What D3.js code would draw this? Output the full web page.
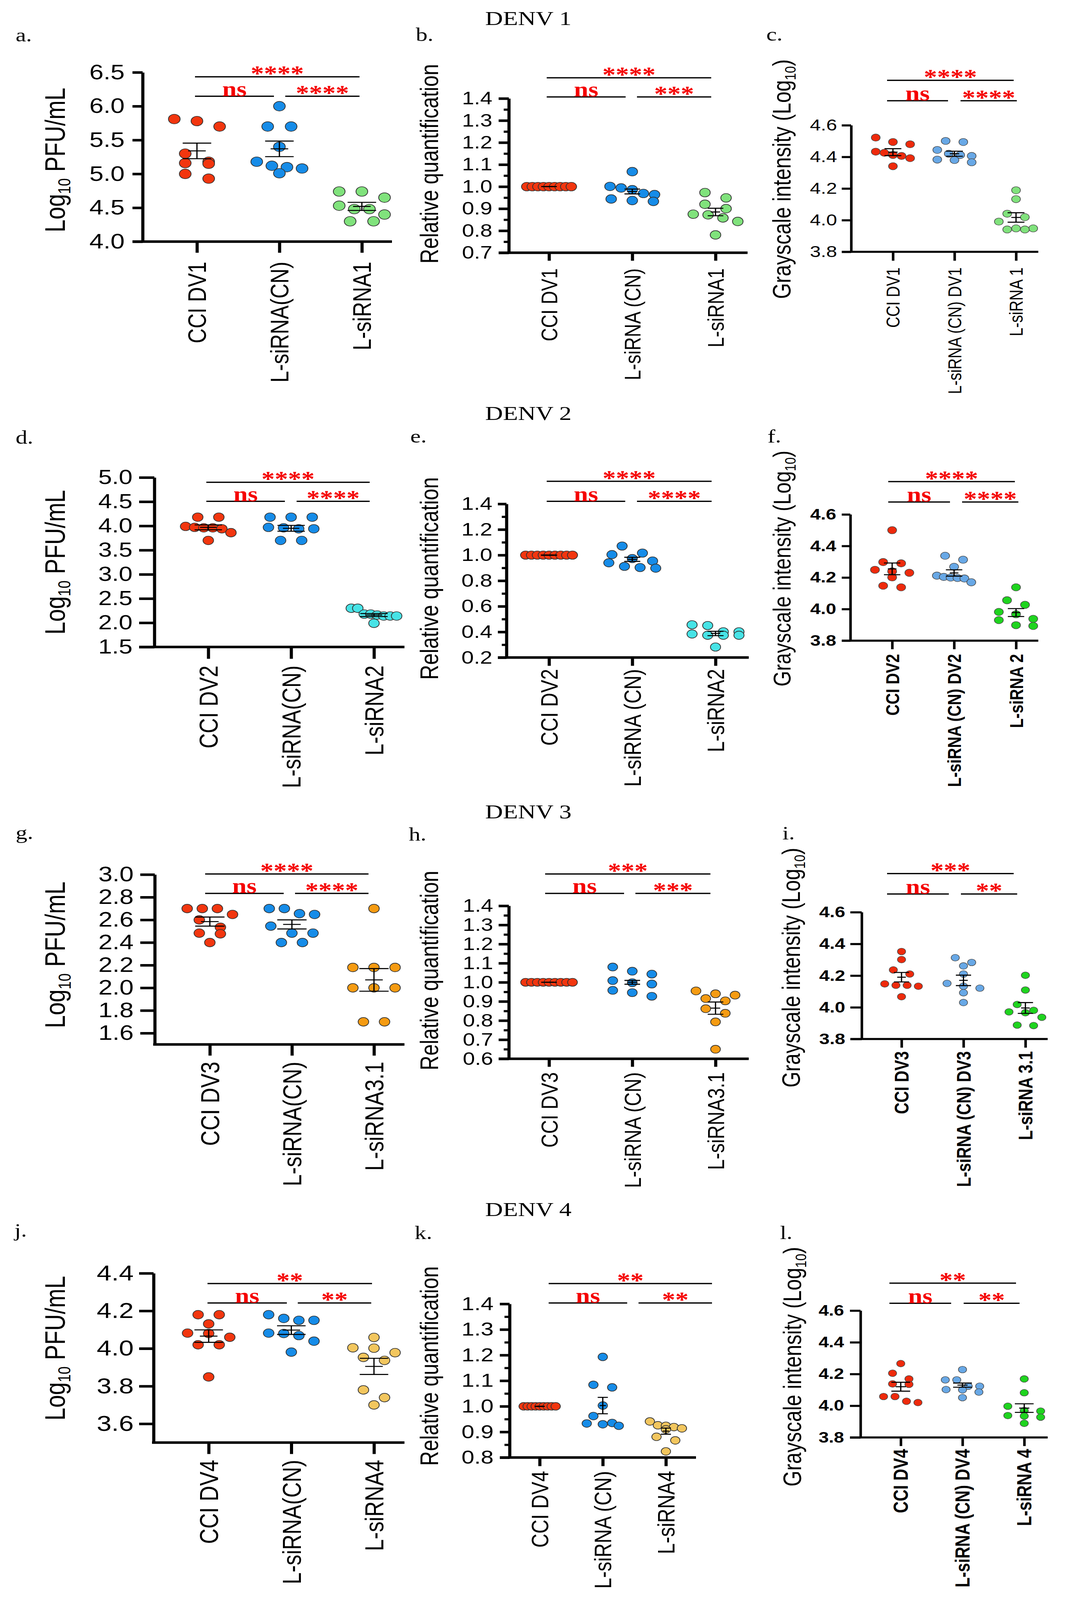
<!DOCTYPE html>
<html><head><meta charset="utf-8">
<script src="https://cdn.jsdelivr.net/npm/d3@7"></script>
<style>html,body{margin:0;padding:0;background:#fff;overflow:hidden}svg{display:block}</style>
</head><body><svg id="c"></svg>
<script>
// ---------------- DATA ----------------
const titles = ["DENV 1", "DENV 2", "DENV 3", "DENV 4"];

// a. Log10 PFU/mL, DENV1
const aCats = ["CCI DV1", "L-siRNA(CN)", "L-siRNA1"];
const aTicks = [4.0, 4.5, 5.0, 5.5, 6.0, 6.5];
const aCCI = [5.81, 5.78, 5.70, 5.30, 5.18, 5.16, 5.15, 5.00, 4.93];
const aCN  = [6.00, 5.70, 5.70, 5.40, 5.18, 5.12, 5.10, 5.08, 5.01];
const aSi  = [4.74, 4.74, 4.65, 4.53, 4.48, 4.48, 4.40, 4.30, 4.30];
const aMean = [5.34, 5.37, 4.52];
const aSem  = [0.115, 0.115, 0.06];
const aSig = ["****", "ns", "****"];

// b. Relative quantification, DENV1
const bCats = ["CCI DV1", "L-siRNA (CN)", "L-siRNA1"];
const bTicks = [0.7, 0.8, 0.9, 1.0, 1.1, 1.2, 1.3, 1.4];
const bCCI = [1, 1, 1, 1, 1, 1, 1, 1, 1];
const bCN  = [1.068, 1.001, 0.994, 0.986, 0.969, 0.964, 0.944, 0.937, 0.933];
const bSi  = [0.973, 0.949, 0.920, 0.900, 0.875, 0.872, 0.858, 0.842, 0.781];
const bMean = [1.0, 0.978, 0.885];
const bSem  = [0, 0.011, 0.017];
const bSig = ["****", "ns", "***"];

// c. Grayscale intensity, DENV1
const cCats = ["CCI DV1", "L-siRNA (CN) DV1", "L-siRNA 1"];
const cTicks = [3.8, 4.0, 4.2, 4.4, 4.6];
const cCCI = [4.522, 4.494, 4.480, 4.433, 4.426, 4.412, 4.406, 4.392, 4.341];
const cCN  = [4.501, 4.494, 4.444, 4.420, 4.412, 4.406, 4.383, 4.380, 4.366];
const cSi  = [4.189, 4.133, 4.041, 4.019, 3.991, 3.948, 3.948, 3.941, 3.941];
const cMean = [4.43, 4.42, 4.017];
const cSem  = [0.022, 0.016, 0.03];
const cSig = ["****", "ns", "****"];

// d. Log10 PFU/mL, DENV2
const dCats = ["CCI DV2", "L-siRNA(CN)", "L-siRNA2"];
const dTicks = [1.5, 2.0, 2.5, 3.0, 3.5, 4.0, 4.5, 5.0];
const dCCI = [4.18, 4.18, 3.99, 3.97, 3.96, 3.96, 3.94, 3.86, 3.70];
const dCN  = [4.18, 4.18, 4.18, 3.97, 3.96, 3.94, 3.94, 3.70, 3.70];
const dSi  = [2.30, 2.30, 2.18, 2.18, 2.16, 2.14, 2.14, 2.14, 1.99];
const dMean = [3.97, 3.95, 2.16];
const dSem  = [0.05, 0.06, 0.03];
const dSig = ["****", "ns", "****"];

// e. Relative quantification, DENV2
const eCats = ["CCI DV2", "L-siRNA (CN)", "L-siRNA2"];
const eTicks = [0.2, 0.4, 0.6, 0.8, 1.0, 1.2, 1.4];
const eCCI = [1, 1, 1, 1, 1, 1, 1, 1, 1];
const eCN  = [1.071, 1.016, 1.004, 0.973, 0.954, 0.940, 0.912, 0.903, 0.898];
const eSi  = [0.456, 0.450, 0.401, 0.401, 0.384, 0.374, 0.374, 0.374, 0.282];
const eMean = [1.0, 0.967, 0.388];
const eSem  = [0, 0.016, 0.017];
const eSig = ["****", "ns", "****"];

// f. Grayscale intensity, DENV2
const fCats = ["CCI DV2", "L-siRNA (CN) DV2", "L-siRNA 2"];
const fTicks = [3.8, 4.0, 4.2, 4.4, 4.6];
const fCCI = [4.50, 4.298, 4.290, 4.249, 4.239, 4.230, 4.201, 4.148, 4.138];
const fCN  = [4.338, 4.313, 4.268, 4.212, 4.204, 4.200, 4.197, 4.194, 4.170];
const fSi  = [4.138, 4.056, 4.027, 3.982, 3.967, 3.938, 3.930, 3.898, 3.893];
const fMean = [4.255, 4.229, 3.978];
const fSem  = [0.037, 0.02, 0.025];
const fSig = ["****", "ns", "****"];

// g. Log10 PFU/mL, DENV3
const gCats = ["CCI DV3", "L-siRNA(CN)", "L-siRNA3.1"];
const gTicks = [1.6, 1.8, 2.0, 2.2, 2.4, 2.6, 2.8, 3.0];
const gCCI = [2.70, 2.70, 2.70, 2.648, 2.60, 2.535, 2.483, 2.477, 2.40];
const gCN  = [2.70, 2.70, 2.655, 2.648, 2.545, 2.483, 2.483, 2.40, 2.40];
const gSi  = [2.70, 2.18, 2.18, 2.18, 2.00, 2.00, 2.00, 1.70, 1.70];
const gMean = [2.585, 2.56, 2.07];
const gSem  = [0.04, 0.04, 0.1];
const gSig = ["****", "ns", "****"];

// h. Relative quantification, DENV3
const hCats = ["CCI DV3", "L-siRNA (CN)", "L-siRNA3.1"];
const hTicks = [0.6, 0.7, 0.8, 0.9, 1.0, 1.1, 1.2, 1.3, 1.4];
const hCCI = [1, 1, 1, 1, 1, 1, 1, 1, 1];
const hCN  = [1.08, 1.058, 1.043, 1.009, 0.998, 0.991, 0.958, 0.946, 0.927];
const hSi  = [0.955, 0.94, 0.933, 0.915, 0.903, 0.862, 0.838, 0.793, 0.65];
const hMean = [1.0, 1.0, 0.865];
const hSem  = [0, 0.01, 0.032];
const hSig = ["***", "ns", "***"];

// i. Grayscale intensity, DENV3
const iCats = ["CCI DV3", "L-siRNA (CN) DV3", "L-siRNA 3.1"];
const iTicks = [3.8, 4.0, 4.2, 4.4, 4.6];
const iCCI = [4.352, 4.301, 4.236, 4.210, 4.148, 4.139, 4.139, 4.133, 4.067];
const iCN  = [4.313, 4.283, 4.261, 4.210, 4.151, 4.133, 4.121, 4.092, 4.030];
const iSi  = [4.202, 4.109, 4.018, 3.981, 3.971, 3.966, 3.937, 3.888, 3.885];
const iMean = [4.19, 4.17, 3.996];
const iSem  = [0.03, 0.033, 0.034];
const iSig = ["***", "ns", "**"];

// j. Log10 PFU/mL, DENV4
const jCats = ["CCI DV4", "L-siRNA(CN)", "L-siRNA4"];
const jTicks = [3.6, 3.8, 4.0, 4.2, 4.4];
const jCCI = [4.18, 4.18, 4.131, 4.082, 4.080, 4.06, 4.02, 4.02, 3.849];
const jCN  = [4.18, 4.16, 4.15, 4.15, 4.082, 4.08, 4.069, 4.039, 3.981];
const jSi  = [4.059, 4.004, 4.002, 3.978, 3.953, 3.937, 3.78, 3.739, 3.70];
const jMean = [4.066, 4.098, 3.905];
const jSem  = [0.033, 0.023, 0.043];
const jSig = ["**", "ns", "**"];

// k. Relative quantification, DENV4
const kCats = ["CCI DV4", "L-siRNA (CN)", "L-siRNA4"];
const kTicks = [0.8, 0.9, 1.0, 1.1, 1.2, 1.3, 1.4];
const kCCI = [1, 1, 1, 1, 1, 1, 1, 1, 1];
const kCN  = [1.193, 1.084, 1.074, 1.003, 0.962, 0.935, 0.933, 0.930, 0.924];
const kSi  = [0.941, 0.926, 0.924, 0.919, 0.914, 0.910, 0.881, 0.867, 0.824];
const kMean = [1.0, 1.003, 0.903];
const kSem  = [0, 0.032, 0.012];
const kSig = ["**", "ns", "**"];

// l. Grayscale intensity, DENV4
const lCats = ["CCI DV4", "L-siRNA (CN) DV4", "L-siRNA 4"];
const lTicks = [3.8, 4.0, 4.2, 4.4, 4.6];
const lCCI = [4.266, 4.205, 4.169, 4.138, 4.135, 4.058, 4.058, 4.028, 4.02];
const lCN  = [4.228, 4.163, 4.163, 4.123, 4.123, 4.102, 4.1, 4.086, 4.051];
const lSi  = [4.169, 4.082, 3.997, 3.969, 3.966, 3.938, 3.935, 3.928, 3.889];
const lMean = [4.12, 4.13, 3.985];
const lSem  = [0.028, 0.013, 0.027];
const lSig = ["**", "ns", "**"];

// ---------------- STYLE / LAYOUT ----------------
const SANS = "'Liberation Sans', Arial, Helvetica, sans-serif";
const SERIF = "'Liberation Serif', 'Times New Roman', serif";
const R = '#f2360f', B = '#168ce8', G1 = '#80e27c', C = '#47e3e6', O = '#f59b12', Y = '#f2c65e';
const R2 = '#ee2a0c', B2 = '#68a8e6', G2 = '#1fd41f';
const SIGRED = '#f50000';
const titleY = [78, 1318, 2568, 3815];
const W = 2733, H = 5020;

const panels = [
 {letter:'a.', lx:40, ly:130, ylab:'log', ylFs:72, ylX:166, ylY:502, dom:[4,6.5], yTop:227, yBot:758, axisX:365, tickLen:26, tickFs:65, tickGap:20,
  x1:504, x3:926, xl:339, xr:1003, xTick:35, catFs:65, catTop:821, r:15, spread:58, capW:73, meanW:45, colors:[R,B,G1], sw:8,
  sigY:[241,302], sigX:[[499,920],[499,701],[730,920]],
  cats:aCats, ticks:aTicks, groups:[aCCI,aCN,aSi], mean:aMean, sem:aSem, sig:aSig},
 {letter:'b.', lx:1064, ly:129, ylab:'rel', ylFs:64, ylX:1121, ylY:514, dom:[0.7,1.4], yTop:309, yBot:793, axisX:1302, tickLen:26, tickFs:56, tickGap:16, minor:0.05, minorLen:13,
  x1:1405, x3:1831, xl:1276, xr:1913, xTick:25, catFs:58, catTop:842, r:13.5, spread:57, capW:40, meanW:24, colors:[R,B,G1], sw:8,
  sigY:[244,304], sigX:[[1399,1820],[1399,1601],[1630,1820]],
  cats:bCats, ticks:bTicks, groups:[bCCI,bCN,bSi], mean:bMean, sem:bSem, sig:bSig},
 {letter:'c.', lx:1961, ly:127, ylab:'gray', ylFs:64, ylX:2023, ylY:562, dom:[3.8,4.6], yTop:393, yBot:790, axisX:2178, tickLen:24, tickFs:50, tickGap:12,
  x1:2285, x3:2600, xl:2154, xr:2657, xTick:28, catFs:48, catTop:839, r:11.3, spread:44, capW:43, meanW:24, colors:[R2,B2,G1], sw:6.5,
  sigY:[252,316], sigX:[[2270,2594],[2270,2426],[2458,2602]],
  cats:cCats, ticks:cTicks, groups:[cCCI,cCN,cSi], mean:cMean, sem:cSem, sig:cSig},
 {letter:'d.', lx:40, ly:1392, ylab:'log', ylFs:72, ylX:166, ylY:1764, dom:[1.5,5], yTop:1498, yBot:2030, axisX:395, tickLen:39, tickFs:63, tickGap:17,
  x1:533, x3:957, xl:356, xr:1035, xTick:37, catFs:66, catTop:2088, r:13.5, spread:58, capW:70, meanW:42, colors:[R,B,C], sw:8,
  sigY:[1513,1573], sigX:[[528,946],[528,729],[759,946]],
  cats:dCats, ticks:dTicks, groups:[dCCI,dCN,dSi], mean:dMean, sem:dSem, sig:dSig},
 {letter:'e.', lx:1050, ly:1388, ylab:'rel', ylFs:65, ylX:1121, ylY:1815, dom:[0.2,1.4], yTop:1581, yBot:2063, axisX:1296, tickLen:22, tickFs:57, tickGap:14, minor:0.1, minorLen:12,
  x1:1405, x3:1831, xl:1274, xr:1916, xTick:26, catFs:61, catTop:2099, r:13, spread:60, capW:41, meanW:24, colors:[R,B,C], sw:8,
  sigY:[1510,1573], sigX:[[1399,1821],[1399,1600],[1630,1821]],
  cats:eCats, ticks:eTicks, groups:[eCCI,eCN,eSi], mean:eMean, sem:eSem, sig:eSig},
 {letter:'f.', lx:1964, ly:1388, ylab:'gray', ylFs:63, ylX:2023, ylY:1784, dom:[3.8,4.6], yTop:1614, yBot:2010, axisX:2176, tickLen:22, tickFs:48, tickGap:14, bold:true,
  x1:2283, x3:2600, xl:2154, xr:2657, xTick:27, catFs:49, catBold:true, catTop:2052, r:11.5, spread:44, capW:42, meanW:22, colors:[R2,B2,G2], sw:6.5,
  sigY:[1511,1575], sigX:[[2273,2597],[2273,2431],[2462,2606]],
  cats:fCats, ticks:fTicks, groups:[fCCI,fCN,fSi], mean:fMean, sem:fSem, sig:fSig},
 {letter:'g.', lx:40, ly:2632, ylab:'log', ylFs:73, ylX:166, ylY:2996, dom:[1.5,3.0], yTop:2744, yBot:3277, axisX:396, tickLen:37, tickFs:65, tickGap:17,
  x1:537, x3:957, xl:392, xr:1035, xTick:35, catFs:67, catTop:3331, r:13.5, spread:58, capW:75, meanW:45, colors:[R,B,O], sw:8,
  sigY:[2742,2803], sigX:[[525,943],[525,726],[755,943]],
  cats:gCats, ticks:gTicks, groups:[gCCI,gCN,gSi], mean:gMean, sem:gSem, sig:gSig},
 {letter:'h.', lx:1046, ly:2638, ylab:'rel', ylFs:64, ylX:1121, ylY:3045, dom:[0.6,1.4], yTop:2842, yBot:3322, axisX:1302, tickLen:26, tickFs:56, tickGap:14, minor:0.05, minorLen:13,
  x1:1405, x3:1831, xl:1276, xr:1916, xTick:25, catFs:60, catTop:3364, r:12.5, spread:60, capW:40, meanW:24, colors:[R,B,O], sw:8,
  sigY:[2742,2803], sigX:[[1395,1818],[1395,1597],[1626,1818]],
  cats:hCats, ticks:hTicks, groups:[hCCI,hCN,hSi], mean:hMean, sem:hSem, sig:hSig},
 {letter:'i.', lx:2002, ly:2634, ylab:'gray', ylFs:64, ylX:2047, ylY:3036, dom:[3.8,4.6], yTop:2862, yBot:3260, axisX:2205, tickLen:29, tickFs:48, tickGap:13, bold:true,
  x1:2307, x3:2624, xl:2176, xr:2681, xTick:27, catFs:50, catBold:true, catTop:3298, r:10.5, spread:43, capW:39, meanW:22, colors:[R2,B2,G2], sw:6.5,
  sigY:[2741,2805], sigX:[[2270,2594],[2270,2428],[2459,2603]],
  cats:iCats, ticks:iTicks, groups:[iCCI,iCN,iSi], mean:iMean, sem:iSem, sig:iSig},
 {letter:'j.', lx:37, ly:3880, ylab:'log', ylFs:72, ylX:166, ylY:4230, dom:[3.5,4.4], yTop:3995, yBot:4526, axisX:393, tickLen:37, tickFs:68, tickGap:14,
  x1:534, x3:957, xl:389, xr:1035, xTick:36, catFs:67, catTop:4580, r:13.5, spread:58, capW:73, meanW:45, colors:[R,B,Y], sw:8,
  sigY:[4027,4088], sigX:[[531,952],[531,734],[762,950]],
  cats:jCats, ticks:jTicks, groups:[jCCI,jCN,jSi], mean:jMean, sem:jSem, sig:jSig},
 {letter:'k.', lx:1061, ly:3888, ylab:'rel', ylFs:64, ylX:1121, ylY:4286, dom:[0.8,1.4], yTop:4091, yBot:4573, axisX:1304, tickLen:25, tickFs:59, tickGap:16, minor:0.05, minorLen:13,
  x1:1381, x3:1704, xl:1279, xr:1781, xTick:27, catFs:61, catTop:4615, r:12, spread:41, capW:26, meanW:16, colors:[R,B,Y], sw:8,
  sigY:[4027,4088], sigX:[[1404,1822],[1404,1605],[1634,1822]],
  cats:kCats, ticks:kTicks, groups:[kCCI,kCN,kSi], mean:kMean, sem:kSem, sig:kSig},
 {letter:'l.', lx:1996, ly:3888, ylab:'gray', ylFs:64, ylX:2050, ylY:4288, dom:[3.8,4.6], yTop:4112, yBot:4510, axisX:2202, tickLen:27, tickFs:47, tickGap:15, bold:true,
  x1:2305, x3:2621, xl:2175, xr:2681, xTick:27, catFs:51, catBold:true, catTop:4546, r:10.5, spread:44, capW:48, meanW:26, colors:[R2,B2,G2], sw:6.5,
  sigY:[4026,4089], sigX:[[2276,2600],[2276,2434],[2466,2609]],
  cats:lCats, ticks:lTicks, groups:[lCCI,lCN,lSi], mean:lMean, sem:lSem, sig:lSig}
];

// ---------------- DRAW ----------------
// The drawing is laid out on a 2733x5020 canvas and fitted to the actual window.
const vw = window.innerWidth || W, vh = window.innerHeight || H;
const svg = d3.select('#c')
  .attr('width', vw).attr('height', vh)
  .attr('viewBox', `0 0 ${W} ${H}`)
  .attr('preserveAspectRatio', 'none');
svg.append('rect').attr('width', W).attr('height', H).attr('fill', '#fff');

titles.forEach((t, i) => {
  svg.append('text').attr('x', 1352).attr('y', titleY[i]).attr('text-anchor', 'middle')
    .attr('font-family', SERIF).attr('font-size', 63).attr('fill', '#000').text(t);
});

// Prism-like scatter layout: points whose heights fall within one dot diameter
// share a row and are spread symmetrically about the column centre.
function swarm(vals, y, r, maxHalf) {
  const d = 2 * r;
  const idx = vals.map((v, i) => i).sort((a, b) => vals[b] - vals[a]);
  const rows = [];
  let cur = null;
  idx.forEach(i => {
    const py = y(vals[i]);
    if (cur && Math.abs(py - cur.y0) < d * 0.95) cur.items.push(i);
    else { cur = {y0: py, items: [i]}; rows.push(cur); }
  });
  const off = new Array(vals.length).fill(0);
  rows.forEach(row => {
    const n = row.items.length;
    if (n < 2) return;
    const sp = Math.min(2 * d, 2 * maxHalf / (n - 1));
    row.items.forEach((i, k) => { off[i] = (k - (n - 1) / 2) * sp; });
  });
  return off;
}

function yLabel(g, p) {
  const t = g.append('text')
    .attr('transform', `translate(${p.ylX},${p.ylY}) rotate(-90)`)
    .attr('text-anchor', 'middle').attr('font-family', SANS)
    .attr('font-size', p.ylFs).attr('fill', '#000');
  const sub = p.ylFs * 0.62, sh = p.ylFs * 0.2;
  if (p.ylab === 'log') {
    t.append('tspan').text('Log');
    t.append('tspan').attr('font-size', sub).attr('dy', sh).text('10');
    t.append('tspan').attr('dy', -sh).text(' PFU/mL');
  } else if (p.ylab === 'gray') {
    t.append('tspan').text('Grayscale intensity (Log');
    t.append('tspan').attr('font-size', sub).attr('dy', sh).text('10');
    t.append('tspan').attr('dy', -sh).text(')');
  } else {
    t.text('Relative quantification');
  }
}

panels.forEach(p => {
  const g = svg.append('g');
  g.append('text').attr('x', p.lx).attr('y', p.ly).attr('font-family', SERIF)
    .attr('font-size', 60).attr('fill', '#000').text(p.letter);

  const y = d3.scaleLinear().domain(p.dom).range([p.yBot, p.yTop]);
  const x = d3.scalePoint().domain(p.cats).range([p.x1, p.x3]);

  // y axis
  const ax = d3.axisLeft(y).tickValues(p.ticks).tickSize(p.tickLen).tickSizeOuter(0)
    .tickPadding(p.tickGap).tickFormat(d3.format('.1f'));
  const ga = g.append('g').attr('transform', `translate(${p.axisX},0)`).call(ax);
  ga.attr('font-family', null).attr('font-size', null);
  ga.select('.domain').attr('stroke', '#000').attr('stroke-width', p.sw);
  ga.selectAll('.tick line').attr('stroke', '#000').attr('stroke-width', p.sw);
  ga.selectAll('.tick text').attr('fill', '#000').attr('font-family', SANS)
    .attr('font-size', p.tickFs).attr('font-weight', p.bold ? 'bold' : 'normal');

  // minor ticks
  if (p.minor) {
    const n = Math.round((p.dom[1] - p.dom[0]) / p.minor);
    const minors = d3.range(n + 1).map(k => p.dom[0] + k * p.minor)
      .filter(v => !p.ticks.some(t => Math.abs(t - v) < 1e-6));
    const am = d3.axisLeft(y).tickValues(minors).tickSize(p.minorLen).tickSizeOuter(0).tickFormat('');
    const gm = g.append('g').attr('transform', `translate(${p.axisX},0)`).call(am);
    gm.select('.domain').remove();
    gm.selectAll('.tick line').attr('stroke', '#000').attr('stroke-width', p.sw * 0.85);
  }

  // x axis
  g.append('line').attr('x1', p.xl).attr('x2', p.xr).attr('y1', p.yBot).attr('y2', p.yBot)
    .attr('stroke', '#000').attr('stroke-width', p.sw);
  const axb = d3.axisBottom(x).tickSize(p.xTick).tickFormat('');
  const gx = g.append('g').attr('transform', `translate(0,${p.yBot})`).call(axb);
  gx.select('.domain').remove();
  gx.selectAll('.tick line').attr('stroke', '#000').attr('stroke-width', p.sw);

  // category labels
  p.cats.forEach(c => {
    g.append('text')
      .attr('transform', `translate(${x(c) + 0.36 * p.catFs},${p.catTop}) rotate(-90)`)
      .attr('text-anchor', 'end').attr('font-family', SANS).attr('font-size', p.catFs)
      .attr('font-weight', p.catBold ? 'bold' : 'normal').attr('fill', '#000').text(c);
  });

  yLabel(g, p);

  // points
  const thin = p.sw < 7;
  p.groups.forEach((vals, gi) => {
    const cx = x(p.cats[gi]);
    const offs = swarm(vals, y, p.r, p.spread);
    g.append('g').selectAll('circle').data(vals).join('circle')
      .attr('cx', (d, i) => cx + offs[i]).attr('cy', d => y(d)).attr('r', p.r)
      .attr('fill', p.colors[gi]).attr('stroke', thin ? '#4a4a4a' : '#333')
      .attr('stroke-width', thin ? 1.6 : 2);
  });

  // mean +/- SEM
  p.cats.forEach((c, gi) => {
    const cx = x(c), m = p.mean[gi], s = p.sem[gi];
    const eg = g.append('g').attr('stroke', '#000').attr('stroke-width', 3.2);
    eg.append('line').attr('x1', cx).attr('x2', cx).attr('y1', y(m + s)).attr('y2', y(m - s));
    [m + s, m - s].forEach(v => eg.append('line').attr('x1', cx - p.capW / 2).attr('x2', cx + p.capW / 2)
      .attr('y1', y(v)).attr('y2', y(v)));
    eg.append('line').attr('x1', cx - p.meanW / 2).attr('x2', cx + p.meanW / 2)
      .attr('y1', y(m)).attr('y2', y(m));
  });

  // significance bars
  const bars = [
    {x: p.sigX[0], y: p.sigY[0], t: p.sig[0]},
    {x: p.sigX[1], y: p.sigY[1], t: p.sig[1]},
    {x: p.sigX[2], y: p.sigY[1], t: p.sig[2]}
  ];
  bars.forEach(b => {
    g.append('line').attr('x1', b.x[0]).attr('x2', b.x[1]).attr('y1', b.y).attr('y2', b.y)
      .attr('stroke', '#000').attr('stroke-width', 4);
    const isNs = b.t === 'ns';
    g.append('text').attr('x', (b.x[0] + b.x[1]) / 2).attr('y', isNs ? b.y - 1 : b.y + 12)
      .attr('text-anchor', 'middle').attr('font-family', SERIF).attr('font-weight', 'bold')
      .attr('font-size', isNs ? 66 : 68).attr('fill', SIGRED).text(b.t);
  });
});
</script>
</body></html>
